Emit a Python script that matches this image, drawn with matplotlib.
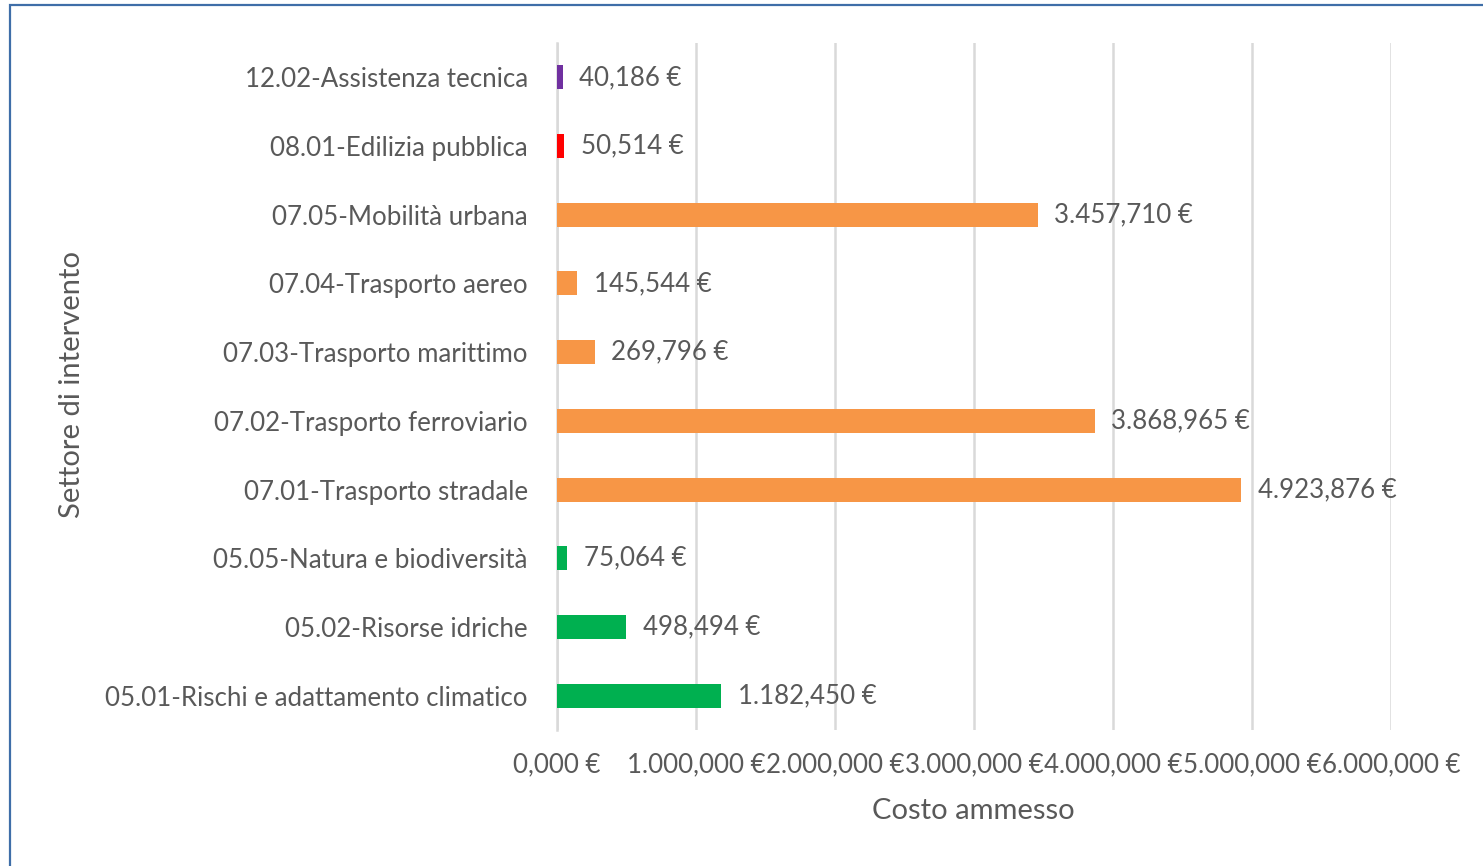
import matplotlib
matplotlib.use("Agg")
import matplotlib.pyplot as plt
from matplotlib.patches import Rectangle

categories = [
    "05.01-Rischi e adattamento climatico",
    "05.02-Risorse idriche",
    "05.05-Natura e biodiversità",
    "07.01-Trasporto stradale",
    "07.02-Trasporto ferroviario",
    "07.03-Trasporto marittimo",
    "07.04-Trasporto aereo",
    "07.05-Mobilità urbana",
    "08.01-Edilizia pubblica",
    "12.02-Assistenza tecnica",
]
values = [1182450, 498494, 75064, 4923876, 3868965, 269796, 145544, 3457710, 50514, 40186]
colors = ["#00B050", "#00B050", "#00B050", "#F79646", "#F79646", "#F79646",
          "#F79646", "#F79646", "#FF0000", "#7030A0"]
tick_values = [0, 1000000, 2000000, 3000000, 4000000, 5000000, 6000000]
tick_labels = ["0,000 €", "1.000,000 €", "2.000,000 €", "3.000,000 €",
               "4.000,000 €", "5.000,000 €", "6.000,000 €"]


def fmt(v):
    s = f"{v:,}"
    if s.count(",") == 2:
        s = s.replace(",", ".", 1)
    return s + " €"


FONT = "Lato"
TXT = "#595959"
FS = 18.6
W, H = 1483, 866
fig = plt.figure(figsize=(W / 100, H / 100), dpi=100)
fig.patch.set_facecolor("white")

# outer frame
fig.patches.append(Rectangle((10 / W, -0.05), 1.2, (H - 5) / H + 0.05,
                             transform=fig.transFigure, fill=False,
                             edgecolor="#3F6EA8", linewidth=1.6))

left, right, top, bottom = 557, 1391, 43, 730
ax = fig.add_axes([left / W, 1 - bottom / H, (right - left) / W, (bottom - top) / H])
y = list(range(len(categories)))
ax.barh(y, values, color=colors, height=0.35, zorder=3)
ax.set_xlim(0, 6000000)
ax.set_ylim(-0.5, len(categories) - 0.5)
ax.set_xticks(tick_values)
ax.set_xticklabels(tick_labels)
ax.set_yticks(y)
ax.set_yticklabels(categories)
ax.grid(axis="x", color="#D9D9D9", linewidth=1.8, zorder=0)
ax.set_axisbelow(True)
for s in ["top", "right", "bottom"]:
    ax.spines[s].set_visible(False)
ax.spines["left"].set_color("#D9D9D9")
ax.spines["left"].set_linewidth(1.8)
ax.tick_params(axis="both", length=0, labelsize=FS, labelcolor=TXT)
ax.tick_params(axis="y", pad=21)
ax.tick_params(axis="x", pad=16)
for lab in ax.get_xticklabels() + ax.get_yticklabels():
    lab.set_fontfamily(FONT)

for yi, v in zip(y, values):
    ax.annotate(fmt(v), (v, yi), xytext=(12, 0), textcoords="offset points",
                va="center", ha="left", fontsize=FS, color=TXT, family=FONT)

fig.text(973 / W, 1 - 811 / H, "Costo ammesso", ha="center", va="center",
         fontsize=21, color=TXT, family=FONT)
fig.text(72 / W, 1 - 385 / H, "Settore di intervento", ha="center", va="center",
         rotation=90, fontsize=21, color=TXT, family=FONT)

fig.savefig("out.png", dpi=100)
